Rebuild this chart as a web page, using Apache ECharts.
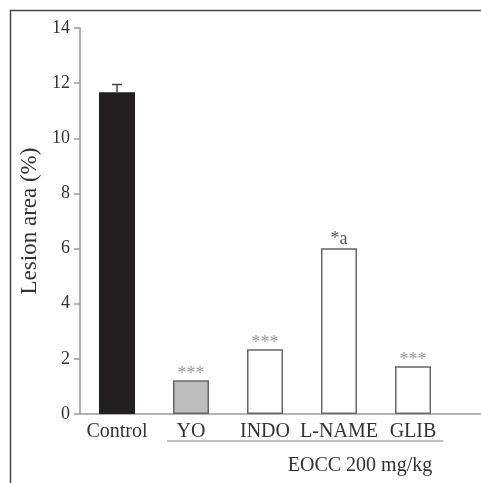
<!DOCTYPE html>
<html><head><meta charset="utf-8">
<script src="https://cdn.jsdelivr.net/npm/echarts@6/dist/echarts.min.js"></script>
<style>html,body{margin:0;padding:0;background:#fff}#c{width:481px;height:483px}</style>
</head><body><div id="c"></div>
<script>
const categories = ['Control', 'YO', 'INDO', 'L-NAME', 'GLIB'];
const values = [11.67, 1.22, 2.35, 6.01, 1.73];
const errors = [0.28, 0, 0, 0, 0];
const marks = ['', '***', '***', '*a', '***'];
const fills = ['#231f20', '#bdbdbd', '#ffffff', '#ffffff', '#ffffff'];
const yTicks = [0, 2, 4, 6, 8, 10, 12, 14];
const groupLabel = 'EOCC 200 mg/kg';

const serif = '"Liberation Serif", "DejaVu Serif", serif';
const chart = echarts.init(document.getElementById('c'), null, {renderer: 'canvas'});
chart.setOption({
  animation: false,
  grid: {left: 80, top: 28, height: 386, width: 370},
  xAxis: {
    type: 'category',
    data: categories,
    axisLine: {lineStyle: {color: '#9a9a9a', width: 1.5}},
    axisTick: {show: false},
    axisLabel: {color: '#333', fontFamily: serif, fontSize: 20, margin: 8, interval: 0}
  },
  yAxis: {
    type: 'value', min: 0, max: 14, interval: 2,
    name: 'Lesion area (%)', nameLocation: 'middle', nameGap: 38,
    nameTextStyle: {color: '#333', fontFamily: serif, fontSize: 23},
    axisLine: {show: true, lineStyle: {color: '#9a9a9a', width: 1.5}},
    axisTick: {show: true, length: 6, lineStyle: {color: '#9a9a9a', width: 1.5}},
    axisLabel: {color: '#333', fontFamily: serif, fontSize: 18, margin: 10,
      formatter: v => yTicks.includes(v) ? String(v) : ''},
    splitLine: {show: false}
  },
  series: [{
    type: 'bar',
    barWidth: 36,
    data: values.map((v, i) => ({
      value: v,
      itemStyle: {color: fills[i], borderColor: i === 0 ? '#231f20' : '#666', borderWidth: 1.5},
      label: {
        show: !!marks[i], position: 'top', distance: marks[i] === '*a' ? 0 : -3,
        formatter: marks[i],
        color: marks[i] === '*a' ? '#555' : '#999',
        fontFamily: serif, fontSize: 18
      }
    }))
  }, {
    type: 'custom',
    data: values.map((v, i) => [i, v, errors[i]]),
    renderItem: function (params, api) {
      const err = api.value(2);
      if (!err) return null;
      const base = api.coord([api.value(0), api.value(1)]);
      const top = api.coord([api.value(0), api.value(1) + err]);
      const st = {stroke: '#444', lineWidth: 1.5};
      return {type: 'group', children: [
        {type: 'line', shape: {x1: base[0], y1: base[1], x2: top[0], y2: top[1]}, style: st},
        {type: 'line', shape: {x1: top[0] - 5, y1: top[1], x2: top[0] + 5, y2: top[1]}, style: st}
      ]};
    },
    z: 5
  }],
  graphic: [
    {type: 'line', shape: {x1: 10, y1: 10.5, x2: 481, y2: 10.5}, style: {stroke: '#444', lineWidth: 1.5}},
    {type: 'line', shape: {x1: 10.5, y1: 10, x2: 10.5, y2: 483}, style: {stroke: '#444', lineWidth: 1.5}},
    {type: 'line', shape: {x1: 450, y1: 414, x2: 481, y2: 414}, style: {stroke: '#9a9a9a', lineWidth: 1.5}},
    {type: 'line', shape: {x1: 167, y1: 441, x2: 443, y2: 441}, style: {stroke: '#888', lineWidth: 1.2}},
    {type: 'text', x: 360, y: 466, style: {text: groupLabel, fill: '#333', font: '20px ' + serif, textAlign: 'center', textVerticalAlign: 'middle'}}
  ]
});
</script></body></html>
